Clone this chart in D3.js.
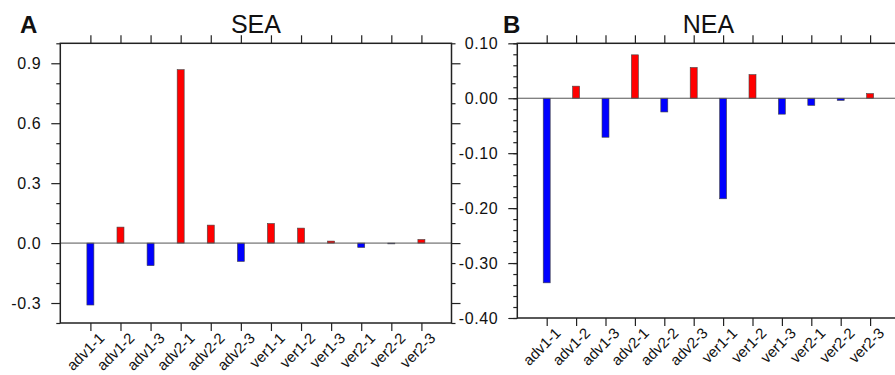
<!DOCTYPE html>
<html>
<head>
<meta charset="utf-8">
<script src="https://cdn.jsdelivr.net/npm/d3@7"></script>
<style>
  body { margin: 0; background: #fff; }
  svg { display: block; }
  text { font-family: "Liberation Sans", Arial, Helvetica, sans-serif; fill: #111; }
</style>
</head>
<body>
<script>
// categories and values
const categories = ["adv1-1", "adv1-2", "adv1-3", "adv2-1", "adv2-2", "adv2-3",
  "ver1-1", "ver1-2", "ver1-3", "ver2-1", "ver2-2", "ver2-3"];
const seaValues = [-0.31, 0.08, -0.113, 0.868, 0.09, -0.092, 0.098, 0.075, 0.01, -0.022, -0.003, 0.018];
const neaValues = [-0.336, 0.022, -0.071, 0.079, -0.025, 0.056, -0.183, 0.043, -0.029, -0.013, -0.004, 0.0085];
const seaTicks = [-0.3, 0.0, 0.3, 0.6, 0.9];
const seaMinor = [-0.4, -0.2, -0.1, 0.1, 0.2, 0.4, 0.5, 0.7, 0.8, 1.0];
const neaTicks = [-0.4, -0.3, -0.2, -0.1, 0.0, 0.1];
const neaMinor = d3.range(-20, 6).map(d => d / 50);

const w = 895;
const h = 375;
const svg = d3.select("body").append("svg").attr("width", w).attr("height", h);

const hyphen = fmt => d => d3.format(fmt)(d).replace("\u2212", "-");

const drawPanel = function (p) {
  const x = d3.scaleLinear().domain([0, categories.length + 1]).range([p.left, p.right]);
  const y = d3.scaleLinear().domain(p.domain).range([p.bottom, p.top]);
  const g = svg.append("g");

  // bars
  g.selectAll("rect.bar")
    .data(p.values)
    .enter()
    .append("rect")
    .attr("class", "bar")
    .attr("x", (d, i) => x(i + 1) - 3.5)
    .attr("y", d => Math.min(y(d), y(0)))
    .attr("width", 7)
    .attr("height", d => Math.max(0.8, Math.abs(y(d) - y(0))))
    .style("fill", d => (d >= 0 ? "#ff0000" : "#0000ff"))
    .style("stroke", "#444")
    .style("stroke-width", 0.6);

  // zero line
  g.append("line")
    .attr("x1", p.left).attr("x2", p.right)
    .attr("y1", y(0)).attr("y2", y(0))
    .style("stroke", "#555").style("stroke-width", 1);

  const catTicks = d3.range(1, categories.length + 1);

  // left axis, major + minor
  const left = g.append("g").attr("transform", `translate(${p.left},0)`);
  left.call(d3.axisLeft(y).tickValues(p.ticks).tickFormat(hyphen(p.fmt)).tickSize(9).tickSizeOuter(0).tickPadding(10));
  left.append("g").call(d3.axisLeft(y).tickValues(p.minor).tickFormat("").tickSize(4).tickSizeOuter(0));

  // right axis
  const right = g.append("g").attr("transform", `translate(${p.right},0)`);
  right.call(d3.axisRight(y).tickValues(p.ticks).tickFormat("").tickSize(9).tickSizeOuter(0));
  right.append("g").call(d3.axisRight(y).tickValues(p.minor).tickFormat("").tickSize(4).tickSizeOuter(0));

  // top and bottom axes
  g.append("g").attr("transform", `translate(0,${p.top})`)
    .call(d3.axisTop(x).tickValues(catTicks).tickFormat("").tickSize(8).tickSizeOuter(0));
  const bottom = g.append("g").attr("transform", `translate(0,${p.bottom})`)
    .call(d3.axisBottom(x).tickValues(catTicks).tickFormat("").tickSize(8).tickSizeOuter(0));

  g.selectAll(".domain").remove();
  g.selectAll(".tick line").style("stroke", "#222").style("stroke-width", 1.2);
  g.selectAll(".tick text").style("font-size", "16px").style("letter-spacing", "0.6px")
    .style("font-family", "'Liberation Sans', Arial, sans-serif").style("fill", "#111");

  // rotated category labels
  bottom.selectAll("text.cat")
    .data(categories)
    .enter()
    .append("text")
    .attr("class", "cat")
    .attr("text-anchor", "end")
    .attr("transform", (d, i) => `translate(${x(i + 1) + 15},${16}) rotate(-45)`)
    .style("font-size", "15px")
    .text(d => d);

  // frame
  g.append("rect")
    .attr("x", p.left).attr("y", p.top)
    .attr("width", p.right - p.left).attr("height", p.bottom - p.top)
    .style("fill", "none").style("stroke", "#222").style("stroke-width", 1.5);

  g.append("text")
    .attr("x", (p.left + p.right) / 2).attr("y", 33)
    .attr("text-anchor", "middle")
    .style("font-size", "25px")
    .text(p.title);

  g.append("text")
    .attr("x", p.letterX).attr("y", 33)
    .style("font-size", "24px").style("font-weight", "bold")
    .text(p.letter);
};

drawPanel({
  values: seaValues, domain: [-0.4, 1.0], ticks: seaTicks, minor: seaMinor, fmt: ".1f",
  left: 60.3, right: 451.5, top: 43.3, bottom: 323, title: "SEA", letter: "A", letterX: 20
});

drawPanel({
  values: neaValues, domain: [-0.4, 0.1], ticks: neaTicks, minor: neaMinor, fmt: ".2f",
  left: 517.3, right: 899.5, top: 43.3, bottom: 318, title: "NEA", letter: "B", letterX: 503
});
</script>
</body>
</html>
